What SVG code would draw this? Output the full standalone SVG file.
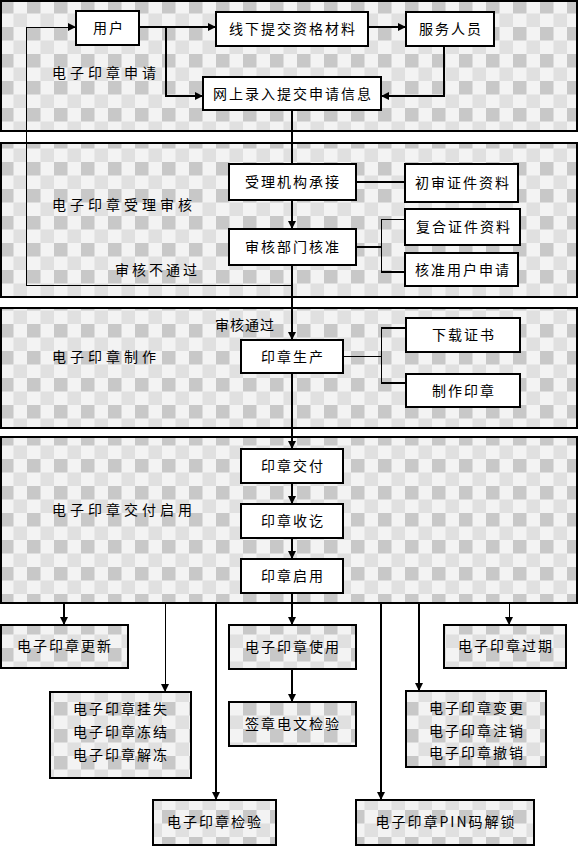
<svg xmlns="http://www.w3.org/2000/svg" width="578" height="846" viewBox="0 0 578 846">
<defs>
<pattern id="chk" width="27" height="27" patternUnits="userSpaceOnUse">
<rect width="27" height="27" fill="#f3f3f3"/>
<rect x="0" y="0" width="13.5" height="13.5" fill="#c8c8c8"/>
<rect x="13.5" y="13.5" width="13.5" height="13.5" fill="#e0e0e0"/>
</pattern>
<marker id="ah" markerWidth="8" markerHeight="8" refX="8" refY="4" orient="auto" markerUnits="userSpaceOnUse">
<path d="M0,0 L8,4 L0,8 Z" fill="#000"/>
</marker>
</defs>
<style>
.sec{fill:url(#chk);stroke:#000;stroke-width:2}
.box{fill:#fff;stroke:#000;stroke-width:2}
.pbox{fill:url(#chk);stroke:#000;stroke-width:2}
.ln{fill:none;stroke:#000;stroke-width:2}
.thin{fill:none;stroke:#000;stroke-width:1;shape-rendering:crispEdges}
.arr{marker-end:url(#ah)}
text{font-family:"Noto Sans CJK SC","Noto Sans",sans-serif;font-size:14px;fill:#000}
.c{text-anchor:middle;letter-spacing:2px}
.lab{letter-spacing:4px}
</style>
<rect width="578" height="846" fill="#fff"/>
<g id="sections">
<rect class="sec" x="1" y="1" width="576" height="130"/>
<rect class="sec" x="1" y="143" width="576" height="154"/>
<rect class="sec" x="1" y="308" width="576" height="120"/>
<rect class="sec" x="1" y="437" width="576" height="166"/>
<text class="lab" x="52" y="78">电子印章申请</text>
<text class="lab" x="52" y="210">电子印章受理审核</text>
<text class="lab" x="52" y="362">电子印章制作</text>
<text class="lab" x="52" y="515">电子印章交付启用</text>
</g>
<g id="connectors">
<path class="ln arr" d="M139,27 H216"/>
<path class="ln arr" d="M166,27 V96 H203"/>
<path class="ln arr" d="M368,27 H406"/>
<path class="ln arr" d="M444,46 V96 H381"/>
<path class="ln" d="M292,110 V164"/>
<path class="ln arr" d="M292,200 V229"/>
<path class="ln arr" d="M292,265 V340"/>
<path class="thin arr" d="M292,285 H26 V27 H76"/>
<path class="ln" d="M356,182 H405"/>
<path class="ln" d="M356,247 H381"/>
<path class="thin" d="M381,219 V272"/>
<path class="thin" d="M381,219 H405"/>
<path class="ln" d="M381,272 H405"/>
<path class="thin" d="M343,356 H381"/>
<path class="thin" d="M381,328 V383"/>
<path class="ln" d="M381,328 H406"/>
<path class="ln" d="M381,383 H406"/>
<path class="ln arr" d="M292,373 V449"/>
<path class="ln arr" d="M292,483 V504"/>
<path class="ln arr" d="M292,538 V559"/>
<path class="ln" d="M292,593 V603"/>
<path class="ln arr" d="M64,603 V625"/>
<path class="thin arr" d="M165,603 V692"/>
<path class="ln arr" d="M216,603 V800"/>
<path class="ln arr" d="M292,603 V625"/>
<path class="ln arr" d="M292,669 V702"/>
<path class="ln arr" d="M381,603 V800"/>
<path class="ln arr" d="M419,603 V691"/>
<path class="thin arr" d="M509,603 V625"/>
<text x="115" y="275" style="letter-spacing:3px">审核不通过</text>
<text x="215" y="330" style="letter-spacing:1px">审核通过</text>
</g>
<g id="n-user"><rect class="box" x="76" y="11" width="63" height="34"/><text class="c" x="109" y="33">用户</text></g>
<g id="n-offline"><rect class="box" x="216" y="12" width="152" height="34"/><text class="c" x="293" y="34">线下提交资格材料</text></g>
<g id="n-staff"><rect class="box" x="406" y="12" width="88" height="34"/><text class="c" x="451" y="34">服务人员</text></g>
<g id="n-online"><rect class="box" x="203" y="77" width="178" height="33"/><text class="c" x="293" y="99">网上录入提交申请信息</text></g>
<g id="n-accept"><rect class="box" x="229" y="164" width="127" height="36"/><text class="c" x="293" y="187">受理机构承接</text></g>
<g id="n-approve"><rect class="box" x="229" y="229" width="127" height="36"/><text class="c" x="293" y="252">审核部门核准</text></g>
<g id="n-check1"><rect class="box" x="405" y="164" width="113" height="38"/><text class="c" x="463" y="188">初审证件资料</text></g>
<g id="n-check2"><rect class="box" x="405" y="209" width="115" height="36"/><text class="c" x="464" y="232">复合证件资料</text></g>
<g id="n-check3"><rect class="box" x="405" y="253" width="113" height="33"/><text class="c" x="463" y="275">核准用户申请</text></g>
<g id="n-produce"><rect class="box" x="241" y="340" width="102" height="33"/><text class="c" x="293" y="362">印章生产</text></g>
<g id="n-cert"><rect class="box" x="406" y="318" width="114" height="34"/><text class="c" x="464" y="340">下载证书</text></g>
<g id="n-make"><rect class="box" x="406" y="374" width="114" height="33"/><text class="c" x="464" y="396">制作印章</text></g>
<g id="n-deliver"><rect class="box" x="241" y="449" width="102" height="34"/><text class="c" x="293" y="471">印章交付</text></g>
<g id="n-receive"><rect class="box" x="241" y="504" width="102" height="34"/><text class="c" x="293" y="526">印章收讫</text></g>
<g id="n-enable"><rect class="box" x="241" y="559" width="102" height="34"/><text class="c" x="293" y="581">印章启用</text></g>
<g id="n-update"><rect class="pbox" x="1" y="625" width="127" height="43"/><text class="c" x="65" y="651">电子印章更新</text></g>
<g id="n-use"><rect class="pbox" x="229" y="625" width="127" height="44"/><text class="c" x="293" y="652">电子印章使用</text></g>
<g id="n-expire"><rect class="pbox" x="444" y="625" width="122" height="43"/><text class="c" x="506" y="651">电子印章过期</text></g>
<g id="n-loss"><rect class="pbox" x="50" y="692" width="141" height="86"/><text class="c" x="121" y="714">电子印章挂失</text><text class="c" x="121" y="737">电子印章冻结</text><text class="c" x="121" y="760">电子印章解冻</text></g>
<g id="n-verifymsg"><rect class="pbox" x="229" y="702" width="127" height="44"/><text class="c" x="293" y="729">签章电文检验</text></g>
<g id="n-change"><rect class="pbox" x="406" y="691" width="140" height="76"/><text class="c" x="477" y="713">电子印章变更</text><text class="c" x="477" y="736">电子印章注销</text><text class="c" x="477" y="758">电子印章撤销</text></g>
<g id="n-verify"><rect class="pbox" x="153" y="800" width="123" height="45"/><text class="c" x="215" y="827">电子印章检验</text></g>
<g id="n-pin"><rect class="pbox" x="356" y="800" width="178" height="45"/><text class="c" x="446" y="827">电子印章PIN码解锁</text></g>
</svg>
